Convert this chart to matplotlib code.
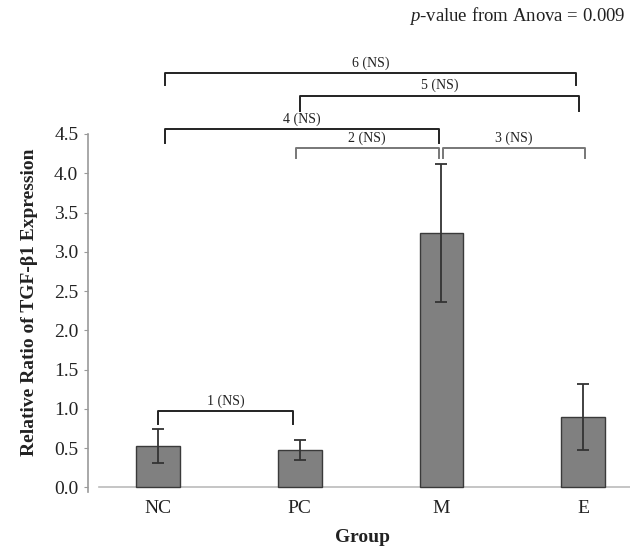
import matplotlib
matplotlib.use("Agg")
import matplotlib.pyplot as plt
import numpy as np

# ---- data ----
groups = ["NC", "PC", "M", "E"]
means = [0.525, 0.475, 3.24, 0.895]
errors = [0.22, 0.125, 0.88, 0.42]
y_ticks = [0.0, 0.5, 1.0, 1.5, 2.0, 2.5, 3.0, 3.5, 4.0, 4.5]

comparison_labels = ["1 (NS)", "2 (NS)", "3 (NS)", "4 (NS)", "5 (NS)", "6 (NS)"]
comparison_pairs = [(0, 1), (1, 2), (2, 3), (0, 2), (1, 3), (0, 3)]
p_text = "-value from Anova = 0.009"

# bracket layout (x start, x end, bar height, leg bottom, colour)
bracket_layout = [
    (0.00, 0.95, 0.966, 0.80, "#222222"),
    (0.97, 1.98, 4.32, 4.19, "#777777"),
    (2.01, 3.01, 4.32, 4.19, "#777777"),
    (0.05, 1.98, 4.56, 4.38, "#222222"),
    (1.00, 2.97, 4.99, 4.79, "#222222"),
    (0.05, 2.95, 5.28, 5.12, "#222222"),
]

plt.rcParams['font.family'] = ['Liberation Serif', 'DejaVu Serif']
plt.rcParams['mathtext.fontset'] = 'custom'
plt.rcParams['mathtext.it'] = 'Liberation Serif:italic'
plt.rcParams['mathtext.rm'] = 'Liberation Serif'

fig = plt.figure(figsize=(6.44, 5.49), dpi=100)
ax = fig.add_axes([88/644, 1-492/549, (630-88)/644, (492-134)/549])

x = np.arange(len(groups))
ax.bar(x, means, width=0.307, color="#808080", edgecolor="#3a3a3a", linewidth=1.0, zorder=2)
ax.errorbar(x, means, yerr=errors, fmt="none", ecolor="#333333", elinewidth=1.3,
            capsize=4, capthick=1.3, zorder=3)

ax.set_xlim(-0.494, 3.33)
ax.set_ylim(-0.06, 4.5)
ax.axhline(0, xmin=0.02, color="#bbbbbb", linewidth=1.2, zorder=1)

for s in ["top", "right", "bottom"]:
    ax.spines[s].set_visible(False)
ax.spines["left"].set_color("#999999")
ax.spines["left"].set_linewidth(1.2)

ax.set_yticks(y_ticks)
ax.set_yticklabels([f"{v:.1f}" for v in y_ticks], fontsize=14, color="#222222")
ax.tick_params(axis="y", length=3, color="#999999", pad=4)
ax.set_xticks(x)
ax.set_xticklabels(groups, fontsize=14, color="#222222")
ax.tick_params(axis="x", length=0, pad=6)

# comparison brackets
for lab, (x0, x1, h, leg, col) in zip(comparison_labels, bracket_layout):
    ax.plot([x0, x0, x1, x1], [leg, h, h, leg], color=col, linewidth=1.4,
            clip_on=False, zorder=4)
    ax.text((x0 + x1) / 2, h + 0.04, lab, ha="center", va="bottom", fontsize=10,
            color="#222222", clip_on=False)

fig.text(30/644, 1-302/549, "Relative Ratio of TGF-β1 Expression", rotation=90,
         ha="center", va="center", fontsize=14, fontweight="bold", color="#222222")
fig.text(363/644, 1-537/549, "Group", ha="center", va="center", fontsize=14,
         fontweight="bold", color="#222222")
fig.text(626/644, 1-16/549, r"$\mathit{p}$" + p_text, ha="right", va="center",
         fontsize=13.5, color="#222222")

fig.savefig("out.png", dpi=100)
